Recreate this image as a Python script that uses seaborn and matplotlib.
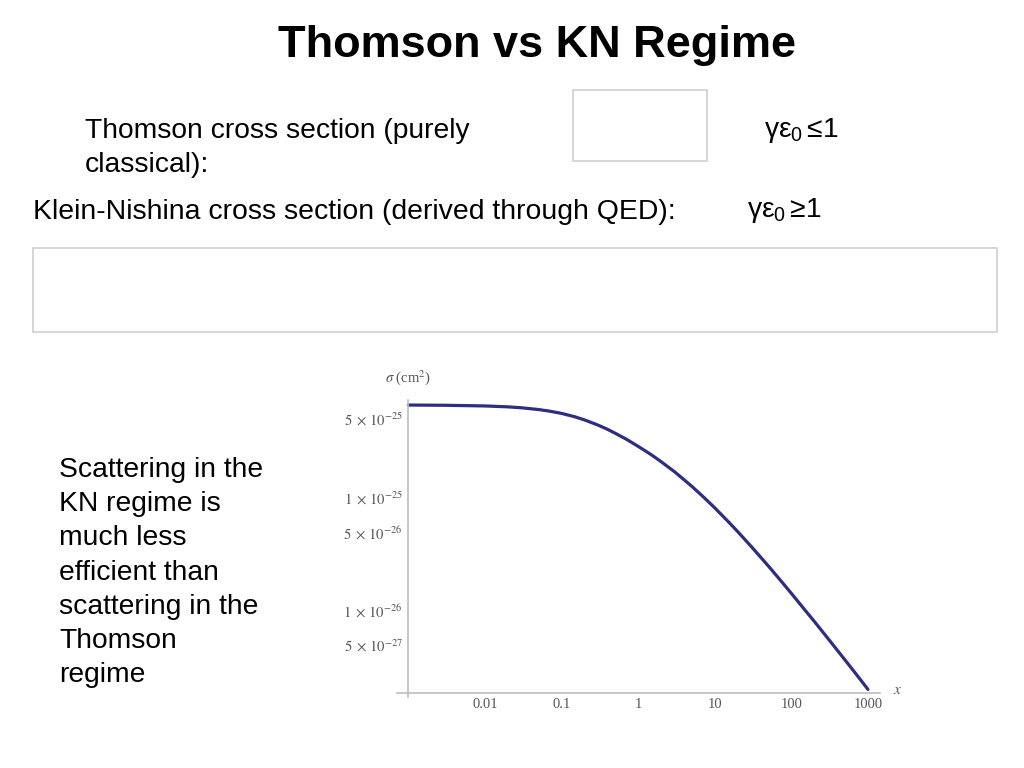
import matplotlib
matplotlib.use("Agg")
import matplotlib.pyplot as plt
import matplotlib.ticker as mticker
from matplotlib.patches import Rectangle
import seaborn as sns
import pandas as pd

# ---- data ----
x_vals = [0.001, 0.003, 0.01, 0.02, 0.03, 0.05, 0.07, 0.1, 0.15, 0.2, 0.3,
          0.4, 0.5, 0.7, 1, 1.5, 2, 3, 5, 7, 10, 15, 20, 30, 50, 70, 100,
          150, 200, 300, 500, 700, 1000]
sigma_vals = [6.64e-25, 6.61e-25, 6.52e-25, 6.40e-25, 6.28e-25, 6.06e-25,
              5.86e-25, 5.60e-25, 5.22e-25, 4.90e-25, 4.41e-25, 4.04e-25,
              3.74e-25, 3.31e-25, 2.86e-25, 2.40e-25, 2.09e-25, 1.70e-25,
              1.27e-25, 1.03e-25, 8.17e-26, 6.17e-26, 5.02e-26, 3.71e-26,
              2.50e-26, 1.91e-26, 1.43e-26, 1.02e-26, 8.05e-27, 5.71e-27,
              3.69e-27, 2.76e-27, 2.02e-27]
x_major = [0.01, 0.1, 1, 10, 100, 1000]
x_major_labels = ["0.01", "0.1", "1", "10", "100", "1000"]
y_major = [5e-25, 1e-25, 5e-26, 1e-26, 5e-27]
y_major_labels = [r"$5\;\times\,10^{-25}$", r"$1\;\times\,10^{-25}$",
                  r"$5\;\times\,10^{-26}$", r"$1\;\times\,10^{-26}$",
                  r"$5\;\times\,10^{-27}$"]
left_lines = ["Scattering in the", "KN regime is", "much less",
              "efficient than", "scattering in the", "Thomson", "regime"]

sns.set_theme(style="white")
plt.rcParams["font.family"] = ["Liberation Sans", "DejaVu Sans"]
plt.rcParams["mathtext.fontset"] = "custom"
plt.rcParams["mathtext.rm"] = "Liberation Sans"
plt.rcParams["mathtext.it"] = "Liberation Sans"
plt.rcParams["mathtext.bf"] = "Liberation Sans:bold"

W, H = 1024, 768
fig = plt.figure(figsize=(W / 100, H / 100), dpi=100)
fig.patch.set_facecolor("white")


def fx(px):
    return px / W


def fy(py):
    return 1 - py / H


# ---- slide texts ----
fig.text(fx(537), fy(57.5), "Thomson vs KN Regime", ha="center", va="baseline",
         fontsize=32.5, fontweight="bold", color="black")
fig.text(fx(85), fy(138), "Thomson cross section (purely", ha="left",
         va="baseline", fontsize=20.3, color="black")
fig.text(fx(85), fy(172), "classical):", ha="left", va="baseline",
         fontsize=20.3, color="black")
fig.text(fx(33), fy(219), "Klein-Nishina cross section (derived through QED):",
         ha="left", va="baseline", fontsize=20.4, color="black")
fig.text(fx(764), fy(137), r"γε$_0$$\,$≤1", ha="left", va="baseline",
         fontsize=20.3, color="black", math_fontfamily="custom")
fig.text(fx(747), fy(217), r"γε$_0$$\,$≥1", ha="left", va="baseline",
         fontsize=20.3, color="black", math_fontfamily="custom")

for i, line in enumerate(left_lines):
    fig.text(fx(59), fy(477 + 34.2 * i), line, ha="left", va="baseline",
             fontsize=20.3, color="black")

# empty image placeholders
for (x0, y0, x1, y1) in [(573, 90, 707, 161), (33, 248, 997, 332)]:
    fig.add_artist(Rectangle((fx(x0), fy(y1)), fx(x1) - fx(x0), fy(y0) - fy(y1),
                             transform=fig.transFigure, fill=False,
                             edgecolor="#cfcfcf", linewidth=1.2))

# ---- the plot ----
ax = fig.add_axes([fx(397), fy(697), fx(880) - fx(397), fy(400) - fy(697)])
ax.set_facecolor("none")
df = pd.DataFrame({"x": x_vals, "sigma": sigma_vals})
sns.lineplot(data=df, x="x", y="sigma", ax=ax, color="#2d2d82",
             linewidth=2.3, estimator=None, sort=True)
ax.set_xscale("log")
ax.set_yscale("log")
ax.set_xlim(7.1e-4, 1436)
ax.set_ylim(1.73e-27, 7.36e-25)
ax.set_xlabel("")
ax.set_ylabel("")

for s in ["top", "right"]:
    ax.spines[s].set_visible(False)
axis_col = "#bdbdbd"
ax.spines["left"].set_position(("data", 1e-3))
ax.spines["bottom"].set_position(("data", 1.88e-27))
for s in ["left", "bottom"]:
    ax.spines[s].set_color(axis_col)
    ax.spines[s].set_linewidth(1.2)

ax.xaxis.set_major_locator(mticker.FixedLocator(x_major))
ax.xaxis.set_major_formatter(mticker.FixedFormatter(x_major_labels))
ax.xaxis.set_minor_locator(mticker.LogLocator(base=10, subs=(2, 3, 4, 5, 6, 7, 8, 9), numticks=20))
ax.xaxis.set_minor_formatter(mticker.NullFormatter())
ax.yaxis.set_major_locator(mticker.FixedLocator(y_major))
ax.yaxis.set_major_formatter(mticker.FixedFormatter(y_major_labels))
ax.yaxis.set_minor_locator(mticker.LogLocator(base=10, subs=(2, 3, 4, 6, 7, 8, 9), numticks=20))
ax.yaxis.set_minor_formatter(mticker.NullFormatter())

ax.tick_params(axis="both", which="major", direction="in", length=4,
               width=1, color=axis_col, labelcolor="#555555", labelsize=10.5)
ax.tick_params(axis="both", which="minor", direction="in", length=2.2,
               width=0.8, color=axis_col)
ax.tick_params(axis="x", which="major", pad=4)
ax.tick_params(axis="y", which="major", pad=4)
for lbl in ax.get_xticklabels() + ax.get_yticklabels():
    lbl.set_fontfamily("Liberation Serif")
    lbl.set_math_fontfamily("stix")

fig.text(fx(408), fy(378), r"$\sigma$ (cm$^2$)", ha="center", va="center",
         fontsize=10.5, color="#555555", family="Liberation Serif",
         math_fontfamily="stix")
fig.text(fx(898), fy(690), r"$x$", ha="center", va="center", fontsize=11,
         color="#555555", math_fontfamily="stix")

fig.savefig("out.png", dpi=100, facecolor="white")
